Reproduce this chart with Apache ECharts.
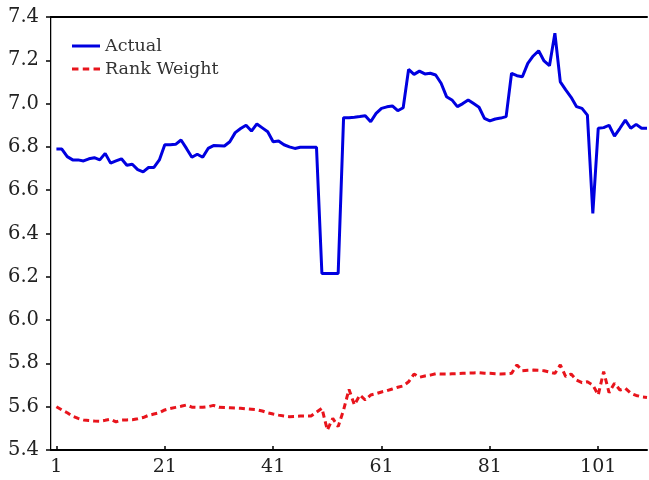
<!DOCTYPE html>
<html>
<head>
<meta charset="utf-8">
<script src="https://cdn.jsdelivr.net/npm/echarts@6/dist/echarts.min.js"></script>
<style>
html,body{margin:0;padding:0;background:#fff;}
#chart{width:649px;height:480px;}
</style>
</head>
<body>
<div id="chart"></div>
<script>
// Observation index 1..110
const periods = Array.from({length: 110}, (_, k) => k + 1);

const actual = [
  6.79, 6.79, 6.755, 6.74, 6.74, 6.735, 6.745, 6.75, 6.74, 6.77,
  6.725, 6.735, 6.745, 6.715, 6.72, 6.695, 6.685, 6.705, 6.705, 6.74,
  6.81, 6.81, 6.812, 6.832, 6.793, 6.752, 6.766, 6.752, 6.793, 6.806,
  6.805, 6.804, 6.824, 6.866, 6.885, 6.90, 6.873, 6.906, 6.888, 6.87,
  6.824, 6.827, 6.81, 6.80, 6.793, 6.798, 6.798, 6.798, 6.798, 6.215,
  6.215, 6.215, 6.215, 6.935, 6.935, 6.937, 6.94, 6.944, 6.916, 6.955,
  6.978, 6.985, 6.989, 6.967, 6.981, 7.158, 7.135, 7.15, 7.137, 7.14,
  7.132, 7.094, 7.032, 7.017, 6.986, 7.0, 7.017, 7.0, 6.983, 6.932,
  6.92, 6.929, 6.933, 6.94, 7.14, 7.129, 7.124, 7.186, 7.22, 7.244,
  7.197, 7.175, 7.325, 7.10, 7.063, 7.029, 6.986, 6.978, 6.947, 6.493,
  6.886, 6.889, 6.90, 6.85, 6.886, 6.924, 6.886, 6.904, 6.886, 6.886
];

const rankWeight = [
  5.600, 5.585, 5.572, 5.556, 5.546, 5.539, 5.536, 5.534, 5.533, 5.537,
  5.542, 5.530, 5.538, 5.539, 5.540, 5.544, 5.550, 5.560, 5.566, 5.572,
  5.585, 5.592, 5.597, 5.602, 5.608, 5.598, 5.597, 5.597, 5.600, 5.606,
  5.597, 5.596, 5.595, 5.594, 5.593, 5.590, 5.588, 5.586, 5.580, 5.572,
  5.566, 5.561, 5.557, 5.554, 5.555, 5.557, 5.557, 5.557, 5.575, 5.593,
  5.492, 5.546, 5.508, 5.585, 5.680, 5.608, 5.654, 5.631, 5.654, 5.660,
  5.668, 5.674, 5.682, 5.690, 5.696, 5.715, 5.751, 5.736, 5.742, 5.746,
  5.752, 5.751, 5.751, 5.752, 5.753, 5.754, 5.755, 5.756, 5.757, 5.755,
  5.754, 5.752, 5.751, 5.752, 5.754, 5.793, 5.766, 5.768, 5.769, 5.768,
  5.766, 5.760, 5.754, 5.793, 5.739, 5.751, 5.723, 5.711, 5.715, 5.700,
  5.654, 5.762, 5.665, 5.708, 5.677, 5.685, 5.662, 5.652, 5.646, 5.643
];

const xTickLabels = [1, 21, 41, 61, 81, 101];
const yTicks = [5.4, 5.6, 5.8, 6.0, 6.2, 6.4, 6.6, 6.8, 7.0, 7.2, 7.4];

const serif = '"DejaVu Serif", "Liberation Serif", serif';
const chart = echarts.init(document.getElementById('chart'), null, {renderer: 'canvas'});

chart.setOption({
  animation: false,
  backgroundColor: '#fff',
  grid: {left: 51, right: 2, top: 17, bottom: 30, containLabel: false},
  legend: {
    orient: 'vertical',
    left: 67, top: 32,
    itemWidth: 28, itemHeight: 12, itemGap: 5,
    textStyle: {fontFamily: serif, fontSize: 17.5, color: '#333'},
    data: [
      {name: 'Actual', icon: 'path://M0,5 L28,5 L28,8 L0,8 Z'},
      {name: 'Rank Weight', icon: 'path://M0,5 L6,5 L6,8 L0,8 Z M10,5 L16,5 L16,8 L10,8 Z M20,5 L26,5 L26,8 L20,8 Z'}
    ]
  },
  xAxis: [{
    type: 'value', min: 0, max: 110,
    axisLine: {show: true, lineStyle: {color: '#000', width: 2}},
    axisTick: {
      show: true, inside: true, length: 4,
      customValues: xTickLabels,
      lineStyle: {color: '#000', width: 1.5}
    },
    axisLabel: {
      fontFamily: serif, fontSize: 19, color: '#222', margin: 8,
      customValues: xTickLabels,
      formatter: v => String(v)
    },
    splitLine: {show: false}
  }, {
    type: 'value', min: 0, max: 110, position: 'top',
    axisLine: {show: true, lineStyle: {color: '#000', width: 2}},
    axisTick: {show: false}, axisLabel: {show: false}, splitLine: {show: false}
  }],
  yAxis: [{
    type: 'value', min: 5.4, max: 7.4, interval: 0.2,
    axisLine: {show: true, lineStyle: {color: '#000', width: 2}},
    axisTick: {show: true, inside: false, length: 5, lineStyle: {color: '#000', width: 1.5}},
    axisLabel: {
      fontFamily: serif, fontSize: 19.5, color: '#222', margin: 12,
      formatter: v => yTicks.find(t => Math.abs(t - v) < 1e-6).toFixed(1)
    },
    splitLine: {show: false}
  }, {
    type: 'value', min: 5.4, max: 7.4, position: 'right',
    axisLine: {show: true, lineStyle: {color: '#bbb', width: 1}},
    axisTick: {show: false}, axisLabel: {show: false}, splitLine: {show: false}
  }],
  series: [{
    name: 'Actual', type: 'line',
    data: periods.map((p, k) => [p, actual[k]]),
    showSymbol: false, symbol: 'none',
    itemStyle: {color: '#0000e0'},
    lineStyle: {color: '#0000e0', width: 3}
  }, {
    name: 'Rank Weight', type: 'line',
    data: periods.map((p, k) => [p, rankWeight[k]]),
    showSymbol: false, symbol: 'none',
    itemStyle: {color: '#e8141c'},
    lineStyle: {color: '#e8141c', width: 3, type: [6, 4]}
  }]
});
</script>
</body>
</html>
